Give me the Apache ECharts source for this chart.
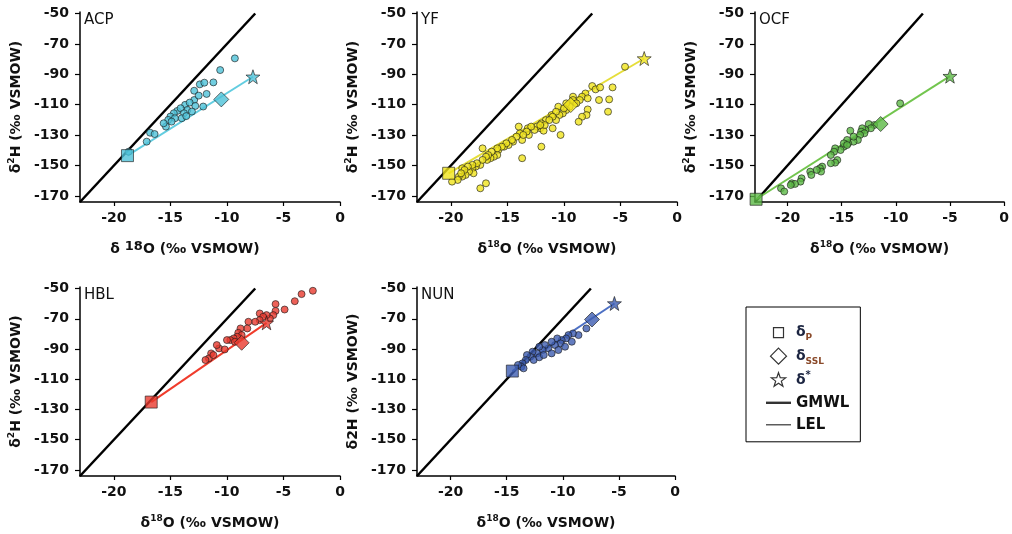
<!DOCTYPE html>
<html>
<head>
<meta charset="utf-8">
<script src="https://cdn.jsdelivr.net/npm/echarts@6/dist/echarts.min.js"></script>
<style>
  html, body { margin: 0; padding: 0; background: #fff; }
  #chart { width: 1012px; height: 534px; }
</style>
</head>
<body>
<div id="chart"></div>
<script>
// [d18O, d2H] pairs
const acpPts = [[-9.3,-79.5],[-10.6,-87.2],[-11.2,-95.3],[-12.4,-96.6],[-12.0,-95.5],[-12.9,-100.8],[-11.8,-102.9],[-12.9,-106.9],[-12.1,-111.2],[-13.7,-110.1],[-13.3,-108.6],[-12.8,-110.8],[-13.5,-113.4],[-13.1,-114.5],[-14.4,-114.1],[-14.1,-112.3],[-14.7,-115.6],[-13.8,-115.6],[-15.0,-117.8],[-14.6,-118.9],[-14.0,-118.9],[-15.2,-120.0],[-14.9,-121.1],[-15.4,-124.4],[-15.6,-122.2],[-16.8,-128.4],[-16.4,-129.3],[-17.1,-134.3],[-18.7,-140.9],[-13.6,-117.5],[-12.5,-104.0]]
const acpP = [-18.8, -143.5]
const acpSsl = [-10.5, -106.5]
const acpStar = [-7.7, -91.6]

const yfPts = [[-4.6,-85.0],[-5.7,-98.6],[-7.5,-97.7],[-7.2,-99.9],[-6.8,-98.6],[-6.9,-106.9],[-6.0,-106.5],[-6.1,-114.6],[-7.9,-113.1],[-8.1,-102.6],[-8.4,-104.7],[-7.9,-105.8],[-8.6,-106.9],[-9.2,-104.7],[-9.1,-108.0],[-9.5,-111.3],[-8.0,-116.8],[-8.4,-117.9],[-8.7,-121.2],[-9.8,-113.5],[-10.1,-115.7],[-10.4,-116.8],[-10.5,-111.3],[-10.7,-120.1],[-11.0,-125.5],[-10.3,-129.9],[-11.1,-116.8],[-11.6,-120.1],[-12.0,-122.3],[-12.1,-125.5],[-11.8,-127.1],[-12.4,-124.4],[-12.0,-137.6],[-13.2,-125.5],[-13.1,-129.9],[-13.7,-133.2],[-13.9,-128.8],[-14.0,-124.4],[-14.5,-134.3],[-14.9,-136.5],[-15.3,-137.6],[-15.8,-139.8],[-13.7,-145.2],[-15.9,-143.1],[-16.2,-144.2],[-16.5,-145.2],[-16.8,-146.3],[-17.2,-138.7],[-17.4,-149.6],[-17.8,-150.7],[-18.1,-151.8],[-18.0,-155.1],[-18.4,-154.0],[-18.7,-156.2],[-19.0,-157.3],[-19.3,-157.3],[-19.0,-151.8],[-19.4,-159.5],[-19.9,-160.6],[-16.9,-161.7],[-17.4,-165.0],[-9.2,-106.9],[-8.9,-109.1],[-9.8,-109.1],[-10.0,-112.4],[-10.7,-114.6],[-11.0,-117.9],[-11.3,-120.1],[-11.7,-123.4],[-12.1,-123.4],[-12.6,-126.6],[-12.9,-124.4],[-13.3,-127.7],[-13.6,-129.9],[-14.2,-131.0],[-14.6,-133.2],[-15.1,-135.4],[-15.5,-137.6],[-15.9,-138.7],[-16.4,-140.9],[-16.7,-143.1],[-16.9,-144.2],[-17.2,-146.3],[-17.7,-148.5],[-18.1,-149.6],[-18.5,-150.7],[-18.8,-152.9],[-19.1,-155.1]]
const yfP = [-20.2, -155.1]
const yfSsl = [-9.4, -110.2]
const yfStar = [-2.9, -79.6]

const ocfPts = [[-9.6,-109.1],[-12.0,-123.4],[-12.5,-122.7],[-12.3,-125.5],[-12.8,-126.6],[-13.1,-125.5],[-13.2,-127.7],[-12.9,-128.8],[-13.3,-129.9],[-14.2,-127.1],[-13.5,-133.2],[-13.9,-134.3],[-14.4,-135.4],[-14.5,-133.2],[-14.8,-137.6],[-15.1,-139.8],[-15.6,-138.7],[-15.7,-140.9],[-16.0,-143.1],[-15.4,-146.4],[-15.6,-148.1],[-16.0,-148.5],[-16.8,-150.7],[-17.0,-151.8],[-16.9,-154.0],[-17.3,-152.9],[-17.9,-154.0],[-17.8,-156.2],[-18.7,-158.4],[-18.8,-160.6],[-19.6,-161.7],[-19.3,-162.1],[-19.7,-162.8],[-20.6,-165.0],[-20.3,-167.1],[-13.9,-131.0],[-14.8,-135.4],[-14.5,-136.5]]
const ocfP = [-22.9, -172.2]
const ocfSsl = [-11.4, -122.7]
const ocfStar = [-5.0, -91.2]

const hblPts = [[-2.4,-51.5],[-3.4,-53.7],[-4.0,-58.4],[-4.9,-63.9],[-5.7,-60.3],[-5.7,-64.8],[-5.9,-67.6],[-6.2,-69.8],[-6.5,-67.6],[-7.1,-66.5],[-6.8,-68.7],[-7.1,-70.9],[-7.5,-72.0],[-8.1,-72.0],[-8.2,-76.4],[-8.8,-76.4],[-9.0,-79.3],[-8.7,-80.8],[-9.1,-81.9],[-9.4,-83.0],[-9.7,-84.1],[-9.3,-85.2],[-10.0,-84.1],[-10.7,-89.6],[-10.9,-87.4],[-10.2,-90.3],[-11.4,-92.9],[-11.6,-96.2],[-11.9,-97.3],[-11.2,-94.0]]
const hblP = [-16.7, -125.1]
const hblSsl = [-8.7, -85.9]
const hblStar = [-6.5, -72.7]

const nunPts = [[-8.6,-80.8],[-9.1,-79.7],[-9.5,-80.8],[-9.7,-83.0],[-10.1,-84.1],[-10.5,-83.0],[-10.2,-86.3],[-10.7,-87.4],[-11.0,-85.2],[-11.3,-89.6],[-11.6,-87.4],[-11.8,-90.7],[-12.1,-88.5],[-12.3,-92.9],[-12.7,-91.8],[-12.9,-95.1],[-13.2,-94.0],[-13.3,-97.3],[-13.6,-99.5],[-13.7,-101.7],[-13.5,-102.8],[-14.0,-100.6],[-12.6,-97.3],[-12.1,-95.5],[-11.7,-94.0],[-11.0,-92.9],[-10.4,-90.7],[-9.8,-88.5],[-9.2,-85.2],[-7.9,-76.4]]
const nunP = [-14.5, -104.6]
const nunSsl = [-7.4, -70.5]
const nunStar = [-5.4, -59.9]

// global meteoric water line end points
const gmwl = [[-23, -174], [-7.5, -50]]

const xTicks = [-20, -15, -10, -5, 0]
const yTicks = [-170, -150, -130, -110, -90, -70, -50]

const FONT = 'DejaVu Sans'
const STAR = 'path://M9,1.5L10.76,6.57L16.13,6.68L11.85,9.93L13.41,15.07L9,12L4.59,15.07L6.15,9.93L1.87,6.68L7.24,6.57Z'

const yNameSup = '{t|δ}{sup|2}{t|H (‰ VSMOW)}'
const xNameSup = '{t|δ}{sup|18}{t|O (‰ VSMOW)}'

const panels = [
  { name: 'ACP', pts: acpPts, p: acpP, ssl: acpSsl, star: acpStar, fill: '#4ec2d8', line: '#62cde0',
    box: [80, 12, 260, 190], xName: '{t|δ }{big|18}{t|O (‰ VSMOW)}', yName: yNameSup, xPad: [0, 50, 0, 0] },
  { name: 'YF', pts: yfPts, p: yfP, ssl: yfSsl, star: yfStar, fill: '#f0e41c', line: '#e6de3a',
    box: [417, 12, 260, 190], xName: xNameSup, yName: yNameSup, xPad: 0 },
  { name: 'OCF', pts: ocfPts, p: ocfP, ssl: ocfSsl, star: ocfStar, fill: '#5cb946', line: '#72c54e',
    box: [755, 12, 258, 190], xName: xNameSup, yName: yNameSup, xPad: 0 },
  { name: 'HBL', pts: hblPts, p: hblP, ssl: hblSsl, star: hblStar, fill: '#e83a2e', line: '#f03c2c',
    box: [80, 287, 260, 189], xName: xNameSup, yName: yNameSup, xPad: 0 },
  { name: 'NUN', pts: nunPts, p: nunP, ssl: nunSsl, star: nunStar, fill: '#3d5db0', line: '#4d70c4',
    box: [417, 287, 258, 189], xName: xNameSup, yName: '{t|δ2H (‰ VSMOW)}', xPad: 0 }
]

const nameRich = {
  t: { fontFamily: FONT, fontSize: 14, fontWeight: 'bold', color: '#111', lineHeight: 18 },
  sup: { fontFamily: FONT, fontSize: 9, fontWeight: 'bold', color: '#111', lineHeight: 10, verticalAlign: 'top' },
  big: { fontFamily: FONT, fontSize: 13, fontWeight: 'bold', color: '#111', lineHeight: 12, verticalAlign: 'top' }
}
const tickLabel = { fontFamily: FONT, fontSize: 14, fontWeight: 'bold', color: '#111' }
const markBorder = { borderColor: '#1a1a1a', borderWidth: 0.8 }

const option = {
  animation: false,
  backgroundColor: '#fff',
  title: [], grid: [], xAxis: [], yAxis: [], series: []
}

panels.forEach(function (p, i) {
  const [left, top, width, height] = p.box
  option.title.push({
    text: p.name, left: left + 4, top: top + 1, padding: 0,
    textStyle: { fontFamily: FONT, fontSize: 15, fontWeight: 'normal', color: '#111' }
  })
  option.grid.push({ left: left, top: top, width: width, height: height })
  option.xAxis.push({
    gridIndex: i, type: 'value', min: -23, max: 0,
    name: p.xName, nameLocation: 'middle', nameGap: 38,
    nameTextStyle: { rich: nameRich, padding: p.xPad },
    axisLine: { onZero: false, lineStyle: { color: '#000', width: 1.5 } },
    axisTick: { customValues: xTicks, length: 4, lineStyle: { color: '#000', width: 1.2 } },
    axisLabel: Object.assign({ customValues: xTicks, margin: 9 }, tickLabel),
    splitLine: { show: false }
  })
  option.yAxis.push({
    gridIndex: i, type: 'value', min: -174, max: -49,
    name: p.yName, nameLocation: 'middle', nameGap: 55,
    nameTextStyle: { rich: nameRich },
    axisLine: { onZero: false, lineStyle: { color: '#000', width: 1.5 } },
    axisTick: { customValues: yTicks, length: 5, lineStyle: { color: '#000', width: 1.2 } },
    axisLabel: Object.assign({ customValues: yTicks, margin: 11 }, tickLabel),
    splitLine: { show: false }
  })
  const ax = { xAxisIndex: i, yAxisIndex: i }
  option.series.push(
    Object.assign({ type: 'line', name: p.name + ' gmwl', data: gmwl, symbol: 'none',
      lineStyle: { color: '#000', width: 2.5 }, z: 2, silent: true }, ax),
    Object.assign({ type: 'line', name: p.name + ' lel', data: [p.p, p.star], symbol: 'none',
      lineStyle: { color: p.line, width: 2 }, z: 3, silent: true }, ax),
    Object.assign({ type: 'scatter', name: p.name + ' samples', data: p.pts, symbolSize: 7,
      itemStyle: Object.assign({ color: p.fill }, markBorder), z: 4 }, ax),
    Object.assign({ type: 'scatter', name: p.name + ' ssl', data: [p.ssl], symbol: 'diamond', symbolSize: 15,
      itemStyle: Object.assign({ color: p.fill }, markBorder), z: 5 }, ax),
    Object.assign({ type: 'scatter', name: p.name + ' p', data: [p.p], symbol: 'rect', symbolSize: 12,
      itemStyle: Object.assign({ color: p.fill }, markBorder), z: 5 }, ax),
    Object.assign({ type: 'scatter', name: p.name + ' star', data: [p.star], symbol: STAR, symbolSize: 14,
      itemStyle: Object.assign({ color: p.fill }, markBorder), z: 5 }, ax)
  )
})

// empty series that only feed the legend
const legendNames = ['dP', 'dSSL', 'dStar', 'GMWL', 'LEL']
legendNames.forEach(function (n) {
  option.series.push({ type: 'scatter', name: n, data: [] })
})

const openMark = { color: '#fff', borderColor: '#000', borderWidth: 1.2 }
const solidMark = { color: '#000', borderWidth: 0 }
const legendLabels = {
  dP: '{d|δ}{s|P}',
  dSSL: '{d|δ}{s|SSL}',
  dStar: '{d|δ}{p|*}',
  GMWL: '{n|GMWL}',
  LEL: '{n|LEL}'
}

option.legend = {
  orient: 'vertical', left: 746, top: 307,
  padding: [16, 11, 8, 20],
  borderColor: '#000', borderWidth: 1,
  itemWidth: 25, itemHeight: 18, itemGap: 4,
  selectedMode: false,
  data: [
    { name: 'dP', icon: 'path://M0,0M18,18M4,4L14,4L14,14L4,14Z', itemStyle: openMark },
    { name: 'dSSL', icon: 'path://M0,0M18,18M9,1L17,9L9,17L1,9Z', itemStyle: openMark },
    { name: 'dStar', icon: 'path://M0,0M18,18M9,1.5L10.76,6.57L16.13,6.68L11.85,9.93L13.41,15.07L9,12L4.59,15.07L6.15,9.93L1.87,6.68L7.24,6.57Z', itemStyle: openMark },
    { name: 'GMWL', icon: 'path://M0,0M25,18M0,7.8L25,7.8L25,10.2L0,10.2Z', itemStyle: solidMark },
    { name: 'LEL', icon: 'path://M0,0M25,18M0,8.4L25,8.4L25,9.6L0,9.6Z', itemStyle: solidMark }
  ],
  formatter: function (name) { return legendLabels[name] },
  textStyle: {
    fontFamily: FONT, fontSize: 14, fontWeight: 'bold', color: '#111',
    rich: {
      d: { fontFamily: FONT, fontSize: 14, fontWeight: 'bold', color: '#1c2541', lineHeight: 20 },
      s: { fontFamily: FONT, fontSize: 9, fontWeight: 'bold', color: '#8a4a2a', lineHeight: 10, verticalAlign: 'bottom' },
      p: { fontFamily: FONT, fontSize: 10, fontWeight: 'bold', color: '#1c2541', lineHeight: 10, verticalAlign: 'top' },
      n: { fontFamily: FONT, fontSize: 15, fontWeight: 'bold', color: '#111', lineHeight: 18 }
    }
  }
}

const chart = echarts.init(document.getElementById('chart'))
chart.setOption(option)
</script>
</body>
</html>
